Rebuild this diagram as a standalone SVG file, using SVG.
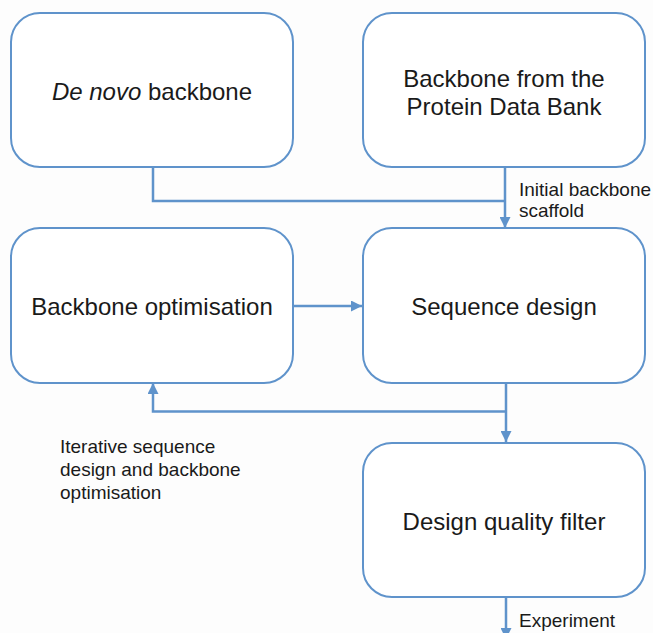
<svg xmlns="http://www.w3.org/2000/svg" width="653" height="633" viewBox="0 0 653 633">
<style>
.box{fill:#ffffff;stroke:#5f93cb;stroke-width:2}
.t{font-family:"Liberation Sans",Arial,sans-serif;font-size:24px;fill:#1a1a1a;text-anchor:middle}
.l{font-family:"Liberation Sans",Arial,sans-serif;font-size:19px;fill:#1a1a1a}
.c{fill:none;stroke:#5f93cb;stroke-width:2.5}
</style>
<defs>
<marker id="ah" viewBox="0 0 10 10" refX="10" refY="5" markerWidth="11" markerHeight="11" markerUnits="userSpaceOnUse" orient="auto">
<path d="M0,0 L10,5 L0,10 z" fill="#5f93cb"/>
</marker>
</defs>
<rect width="653" height="633" fill="#fdfdfd"/>
<g id="connectors">
<path class="c" d="M153,167 V201 H505"/>
<path class="c" d="M505,167 V228" marker-end="url(#ah)"/>
<path class="c" d="M293,306 H362" marker-end="url(#ah)"/>
<path class="c" d="M506,383 V442" marker-end="url(#ah)"/>
<path class="c" d="M506,411.5 H153 V383" marker-end="url(#ah)"/>
<path class="c" d="M506,597 V639" marker-end="url(#ah)"/>
<text class="l" x="519" y="196">Initial backbone</text>
<text class="l" x="519" y="217">scaffold</text>
<text class="l" x="60" y="453">Iterative sequence</text>
<text class="l" x="60" y="476">design and backbone</text>
<text class="l" x="60" y="499">optimisation</text>
<text class="l" x="519" y="627">Experiment</text>
</g>
<g id="denovo">
<rect class="box" x="11" y="13" width="282" height="154" rx="29"/>
<text class="t" x="152" y="100"><tspan font-style="italic">De novo</tspan> backbone</text>
</g>
<g id="pdb">
<rect class="box" x="363" y="13" width="282" height="154" rx="29"/>
<text class="t" x="504" y="87">Backbone from the</text>
<text class="t" x="504" y="115">Protein Data Bank</text>
</g>
<g id="backboneopt">
<rect class="box" x="11" y="228" width="282" height="155" rx="29"/>
<text class="t" x="152" y="315">Backbone optimisation</text>
</g>
<g id="seqdesign">
<rect class="box" x="363" y="228" width="282" height="155" rx="29"/>
<text class="t" x="504" y="315">Sequence design</text>
</g>
<g id="filter">
<rect class="box" x="363" y="443" width="282" height="154" rx="29"/>
<text class="t" x="504" y="530">Design quality filter</text>
</g>
</svg>
